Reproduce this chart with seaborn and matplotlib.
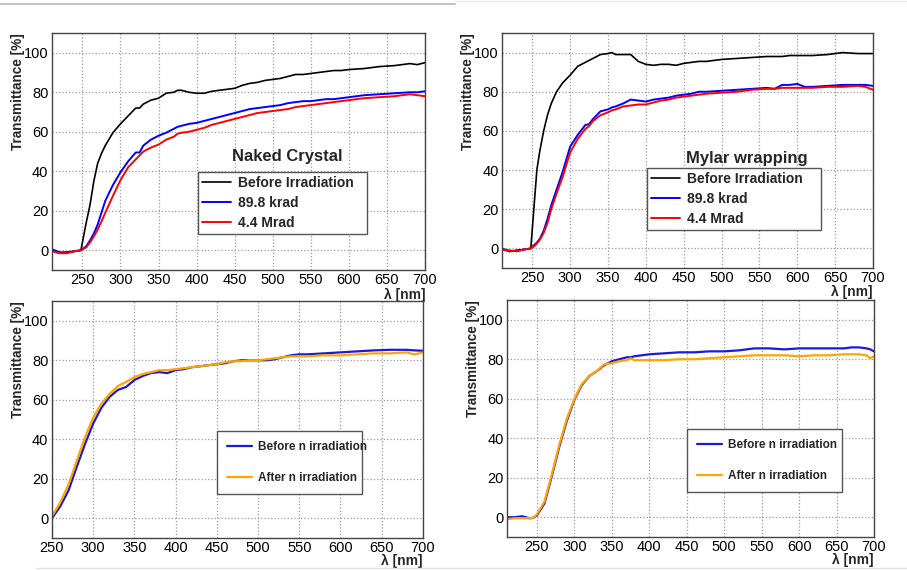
import matplotlib
matplotlib.use('Agg')
import matplotlib.pyplot as plt
from matplotlib.lines import Line2D
from matplotlib.ticker import MultipleLocator
import seaborn as sns

sns.set_style('white')
plt.rcParams['font.family'] = ['Liberation Sans', 'DejaVu Sans']

# --- Naked Crystal (top left) ---
wl_naked = [210, 220, 230, 240, 248, 255, 260, 265, 270, 275, 280, 290, 300, 310, 320, 325, 330,
            340, 350, 360, 370, 375, 380, 390, 400, 410, 420, 430, 440, 450, 460, 470, 480, 490,
            500, 510, 520, 530, 540, 550, 560, 570, 580, 590, 600, 620, 640, 660, 680, 690, 700]
naked_before = [0, -1.5, -1, -0.5, 0, 14, 23, 35, 44, 49, 53, 59.5, 64, 68, 72, 72, 74,
                76, 77, 79.5, 80, 81, 81, 80, 79.5, 79.5, 80.5, 81, 81.5, 82, 83.5, 84.5, 85, 86,
                86.5, 87, 88, 89, 89, 89.5, 90, 90.5, 91, 91, 91.5, 92, 93, 93.5, 94.5, 94, 95]
naked_krad = [0.5, -1, -1, -0.5, 0, 2, 5, 8.5, 13, 19, 25, 33, 39.5, 45, 49.5, 49.5, 53,
              56, 58, 59.5, 61.5, 62.5, 63, 64, 64.5, 65.5, 66.5, 67.5, 68.5, 69.5, 70.5, 71.5, 72, 72.5,
              73, 73.5, 74.5, 75, 75.5, 75.5, 76, 76.5, 76.5, 77, 77.5, 78.5, 79, 79.5, 80, 80, 80.5]
naked_mrad = [-0.5, -1.5, -1.5, -0.5, 0, 1.5, 4, 7, 10.5, 14.5, 19, 27.5, 35.5, 42, 46, 48, 50,
              52, 53.5, 56, 57.5, 59, 59.5, 60, 61, 62, 63.5, 64.5, 65.5, 66.5, 67.5, 68.5, 69.5, 70,
              70.5, 71, 71.5, 72.5, 73, 73.5, 74, 74.5, 75, 75.5, 76, 77, 77.5, 78, 79, 78.5, 78]

# --- Mylar wrapping (top right) ---
wl_mylar = [210, 220, 230, 240, 248, 252, 256, 260, 265, 270, 275, 282, 290, 300, 310, 320, 325,
            330, 340, 350, 355, 360, 370, 380, 390, 400, 410, 420, 430, 440, 450, 460, 470, 480,
            500, 520, 540, 560, 570, 580, 590, 600, 610, 620, 640, 660, 680, 690, 700]
mylar_before = [-0.5, -1.5, -1, -0.5, 0, 20, 40, 50, 60, 68, 74, 80, 84.5, 88.5, 93, 95, 96,
                97, 99, 99.5, 100, 99, 99, 99, 95.5, 94, 93.5, 94, 94, 93.5, 94.5, 95, 95.5, 95.5,
                96.5, 97, 97.5, 98, 98, 98, 98.5, 98.5, 98.5, 98.5, 99, 100, 99.5, 99.5, 99.5]
mylar_krad = [0, -1.5, -1, -0.5, 0, 1.5, 3, 5, 9, 15, 22, 30, 39, 52, 58, 63, 63.5,
              66, 70, 71, 72, 72.5, 74, 76, 75.5, 75, 76, 76.5, 77, 78, 78.5, 79, 80, 80,
              80.5, 81, 81.5, 82, 81.5, 83.5, 83.5, 84, 82.5, 82.5, 83, 83.5, 83.5, 83.5, 83]
mylar_mrad = [-0.5, -1, -1.5, -0.5, 0, 1, 2.5, 4.5, 8, 13, 20, 28, 36.5, 49, 56, 61, 62.5,
              65, 68, 69.5, 70.5, 71, 72.5, 73, 73.5, 73.5, 74.5, 75.5, 76, 77, 77.5, 78, 78.5, 79,
              79.5, 80, 81, 81.5, 81.5, 82, 82, 82, 82, 82, 82.5, 82.5, 83, 82.5, 81]

# --- neutron irradiation, naked (bottom left) ---
wl_n1 = [250, 260, 270, 280, 290, 300, 310, 320, 330, 340, 350, 360, 370, 380, 390, 400, 410,
         420, 430, 440, 450, 460, 470, 480, 490, 500, 510, 520, 530, 540, 550, 560, 580, 600,
         620, 640, 660, 680, 690, 700]
n1_before = [0, 6, 14, 26, 37.5, 48, 56, 61.5, 65, 66.5, 70, 72, 73.5, 74, 73.5, 75, 75.5,
             76.5, 77, 77.5, 78, 78.5, 79.5, 80, 80, 80, 80, 80.5, 81.5, 82.5, 83, 83, 83.5, 84,
             84.5, 85, 85.3, 85.3, 85, 84.8]
n1_after = [1, 8, 17, 29, 41, 51, 58, 63, 67, 69, 71.5, 73, 74, 75, 75, 75.5, 76,
            76.5, 77, 77.5, 78, 79, 79.5, 79.5, 80, 80, 80.5, 81, 81.5, 82, 82, 82, 82.5, 82.5,
            83, 83.5, 83.5, 84, 83, 84]

# --- neutron irradiation, mylar (bottom right) ---
wl_n2 = [210, 220, 230, 240, 245, 250, 260, 270, 280, 290, 300, 310, 320, 330, 340, 350, 360,
         370, 375, 380, 390, 400, 420, 440, 460, 480, 500, 520, 540, 560, 580, 600, 620, 640,
         660, 670, 680, 690, 695, 700]
n2_before = [0, 0, 0.5, -0.5, -0.3, 1, 7, 21, 36, 49, 59.5, 67, 71.5, 74, 77, 79, 80,
             81, 81, 81.5, 82, 82.5, 83, 83.5, 83.5, 84, 84, 84.5, 85.5, 85.5, 85, 85.5, 85.5, 85.5,
             85.5, 86, 86, 85.5, 85, 84]
n2_after = [-1, -0.5, -0.5, -0.5, -0.3, 1.5, 8, 22, 37, 50, 60, 67.5, 71.5, 74, 77.5, 78, 79,
            79.5, 80.5, 79.5, 79.5, 79.5, 79.5, 80, 80, 80.5, 81, 81.5, 82, 82, 82, 81.5, 82, 82,
            82.5, 82.5, 82.5, 82, 80.5, 81.5]

fig = plt.figure(figsize=(9.07, 5.70), dpi=100)

ax_tl = fig.add_axes([0.0573, 0.5263, 0.4113, 0.4158])
ax_tr = fig.add_axes([0.5535, 0.5298, 0.4090, 0.4123])
ax_bl = fig.add_axes([0.0573, 0.0561, 0.4090, 0.4158])
ax_br = fig.add_axes([0.5590, 0.0579, 0.4046, 0.4158])


def style_axes(ax, xmin, xlab_y):
    ax.set_xlim(xmin, 700)
    ax.set_ylim(-10, 110)
    ax.xaxis.set_major_locator(MultipleLocator(50))
    ax.xaxis.set_minor_locator(MultipleLocator(10))
    ax.yaxis.set_major_locator(MultipleLocator(20))
    ax.yaxis.set_minor_locator(MultipleLocator(5))
    ax.tick_params(axis='both', which='both', direction='in', colors='#333333',
                   labelcolor='black', labelsize=10.5, pad=2.5)
    ax.tick_params(axis='y', which='major', length=7)
    ax.tick_params(axis='y', which='minor', length=4)
    ax.tick_params(axis='x', which='major', length=6)
    ax.tick_params(axis='x', which='minor', length=3.5)
    ax.grid(True, which='major', linestyle=':', color='#9a9a9a', lw=0.9)
    for s in ax.spines.values():
        s.set_color('#444444')
        s.set_linewidth(1.0)
    ax.set_ylabel('Transmittance [%]', fontsize=9.8, fontweight='bold', loc='top')
    ax.yaxis.set_label_coords(-0.073, 1.0)
    ax.set_xlabel('λ [nm]', fontsize=10, fontweight='bold', loc='right')
    ax.xaxis.set_label_coords(1.0, xlab_y)


# top row
for ax, wl, before, krad, mrad, title, box, tpos in [
        (ax_tl, wl_naked, naked_before, naked_krad, naked_mrad, 'Naked Crystal',
         (0.391, 0.156, 0.454, 0.258), (0.63, 0.477)),
        (ax_tr, wl_mylar, mylar_before, mylar_krad, mylar_mrad, 'Mylar wrapping',
         (0.391, 0.162, 0.469, 0.264), (0.66, 0.468))]:
    sns.lineplot(x=wl, y=before, ax=ax, color='black', lw=1.2, label='Before Irradiation')
    sns.lineplot(x=wl, y=krad, ax=ax, color='#0000ff', lw=1.4, label='89.8 krad')
    sns.lineplot(x=wl, y=mrad, ax=ax, color='#ff0000', lw=1.4, label='4.4 Mrad')
    style_axes(ax, 210, -0.074)
    ax.text(tpos[0], tpos[1], title, transform=ax.transAxes, ha='center', va='center',
            fontsize=12, fontweight='bold')
    leg = ax.legend(loc='upper left', bbox_to_anchor=box, mode='expand', fancybox=False,
                    framealpha=1, edgecolor='#555555', borderpad=0.3, labelspacing=0.42,
                    handlelength=2.1, handletextpad=0.5, borderaxespad=0,
                    prop={'size': 10, 'weight': 'bold'})
    leg.get_frame().set_linewidth(1.0)

# bottom row
for ax, wl, before, after, xmin, box in [
        (ax_bl, wl_n1, n1_before, n1_after, 250, (0.445, 0.19, 0.391, 0.261)),
        (ax_br, wl_n2, n2_before, n2_after, 210, (0.49, 0.19, 0.423, 0.266))]:
    sns.lineplot(x=wl, y=before, ax=ax, color='#1a1ad6', lw=1.6, label='Before n irradiation')
    sns.lineplot(x=wl, y=after, ax=ax, color='#ffa500', lw=1.6, label='After n irradiation')
    style_axes(ax, xmin, -0.068)
    leg = ax.legend(loc='upper left', bbox_to_anchor=box, mode='expand', fancybox=False,
                    framealpha=1, edgecolor='#555555', borderpad=0.85, labelspacing=1.6,
                    handlelength=2.1, handletextpad=0.5, borderaxespad=0,
                    prop={'size': 8.5, 'weight': 'bold'})
    leg.get_frame().set_linewidth(1.0)

# thin separator lines of the original screenshot
fig.add_artist(Line2D([0, 0.502], [1 - 4 / 570] * 2, color='#c4c4c4', lw=1.5))
fig.add_artist(Line2D([0.502, 1], [1 - 1 / 570] * 2, color='#ececec', lw=1.0))
fig.add_artist(Line2D([0.04, 1], [2 / 570] * 2, color='#e2e2e2', lw=1.0))

fig.savefig('out.png', dpi=100)
